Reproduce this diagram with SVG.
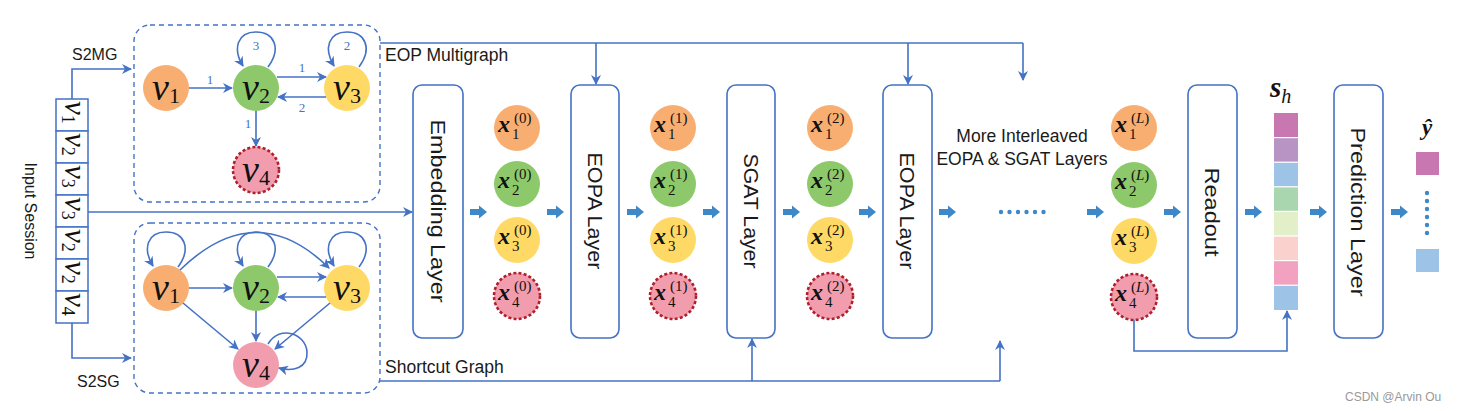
<svg xmlns="http://www.w3.org/2000/svg" width="1461" height="411" viewBox="0 0 1461 411">
<defs>
<style>
.conn{fill:none;stroke:#4472C4;stroke-width:1.6}
.dbox{fill:none;stroke:#4472C4;stroke-width:1.4;stroke-dasharray:5,4}
.layer{fill:#fff;stroke:#4472C4;stroke-width:1.6}
.lt{font-family:"Liberation Sans",Arial,sans-serif;font-size:21px;fill:#1a1a1a}
.lbl{font-family:"Liberation Sans",Arial,sans-serif;font-size:17.5px;fill:#1a1a1a}
.el{font-family:"Liberation Serif","Times New Roman",serif;font-size:13px;fill:#4472C4;text-anchor:middle}
.o{fill:#F9AE71}.g{fill:#8DC96B}.y{fill:#FFD966}.p{fill:#F29DAE}
.pd{fill:#F29DAE;stroke:#B01F2E;stroke-width:2.6;stroke-dasharray:3,2.2}
.v{font-family:"Liberation Serif","Times New Roman",serif;font-style:italic;font-size:38px;fill:#111}
.vs{font-family:"Liberation Serif","Times New Roman",serif;font-style:normal;font-size:22px;fill:#111}
.xm{font-family:"Liberation Serif","Times New Roman",serif;font-style:italic;font-weight:bold;font-size:24px;fill:#111}
.xs{font-family:"Liberation Serif","Times New Roman",serif;font-size:15px;fill:#111}
.ba{fill:#3C88C8}
.cell{fill:#fff;stroke:#4472C4;stroke-width:1.5}
</style>
<marker id="ah" viewBox="0 0 10 10" refX="9" refY="5" markerWidth="11" markerHeight="10" markerUnits="userSpaceOnUse" orient="auto">
<path d="M0,0 L10,5 L0,10 L3,5 z" fill="#4472C4"/>
</marker>
<path id="barrow" d="M0,-3 H9 V-6.5 L17,0 L9,6.5 V3 H0 z"/>
</defs>
<rect width="1461" height="411" fill="#fff"/>

<!-- Input session -->
<g id="input-session">
<rect class="cell" x="56" y="99" width="32" height="32"/>
<rect class="cell" x="56" y="131" width="32" height="32"/>
<rect class="cell" x="56" y="163" width="32" height="32"/>
<rect class="cell" x="56" y="195" width="32" height="32"/>
<rect class="cell" x="56" y="227" width="32" height="32"/>
<rect class="cell" x="56" y="259" width="32" height="32"/>
<rect class="cell" x="56" y="291" width="32" height="32"/>
<g transform="translate(72,115) rotate(90)"><text class="v" x="-14" y="7" style="font-size:31px">v<tspan class="vs" style="font-size:18px" dy="3">1</tspan></text></g>
<g transform="translate(72,147) rotate(90)"><text class="v" x="-14" y="7" style="font-size:31px">v<tspan class="vs" style="font-size:18px" dy="3">2</tspan></text></g>
<g transform="translate(72,179) rotate(90)"><text class="v" x="-14" y="7" style="font-size:31px">v<tspan class="vs" style="font-size:18px" dy="3">3</tspan></text></g>
<g transform="translate(72,211) rotate(90)"><text class="v" x="-14" y="7" style="font-size:31px">v<tspan class="vs" style="font-size:18px" dy="3">3</tspan></text></g>
<g transform="translate(72,243) rotate(90)"><text class="v" x="-14" y="7" style="font-size:31px">v<tspan class="vs" style="font-size:18px" dy="3">2</tspan></text></g>
<g transform="translate(72,275) rotate(90)"><text class="v" x="-14" y="7" style="font-size:31px">v<tspan class="vs" style="font-size:18px" dy="3">2</tspan></text></g>
<g transform="translate(72,307) rotate(90)"><text class="v" x="-14" y="7" style="font-size:31px">v<tspan class="vs" style="font-size:18px" dy="3">4</tspan></text></g>
<text class="lbl" transform="translate(25,211) rotate(90)" text-anchor="middle" style="font-size:16px">Input Session</text>
</g>

<text class="lbl" x="72" y="60" style="font-size:16px">S2MG</text>
<text class="lbl" x="77" y="387" style="font-size:16px">S2SG</text>

<!-- EOP Multigraph -->
<g id="eop-multigraph">
<rect class="dbox" x="134" y="25" width="246" height="177" rx="16"/>
<circle class="o" cx="166" cy="88" r="23"/>
<circle class="g" cx="256" cy="88" r="23"/>
<circle class="y" cx="347" cy="88" r="23"/>
<circle class="pd" cx="256" cy="170" r="23"/>
<text class="v" x="152" y="100">v<tspan class="vs" dy="3">1</tspan></text>
<text class="v" x="242" y="100">v<tspan class="vs" dy="3">2</tspan></text>
<text class="v" x="333" y="100">v<tspan class="vs" dy="3">3</tspan></text>
<text class="v" x="242" y="182">v<tspan class="vs" dy="3">4</tspan></text>
<g class="edges">
<path class="conn" marker-end="url(#ah)" d="M189,88 H232"/>
<path class="conn" marker-end="url(#ah)" d="M277,77 H326"/>
<path class="conn" marker-end="url(#ah)" d="M326,97 H278"/>
<path class="conn" marker-end="url(#ah)" d="M256,111 V146"/>
<path class="conn" marker-end="url(#ah)" d="M268,67 C282,48 274,32 256,32 C238,32 232,48 243,66"/>
<path class="conn" marker-end="url(#ah)" d="M359,67 C373,48 365,32 347,32 C329,32 323,48 334,66"/>
</g>
<text class="el" x="210" y="84">1</text>
<text class="el" x="302" y="72">1</text>
<text class="el" x="302" y="112">2</text>
<text class="el" x="248" y="128">1</text>
<text class="el" x="256" y="50">3</text>
<text class="el" x="347" y="50">2</text>
</g>
<text class="lbl" x="385" y="61">EOP Multigraph</text>

<!-- Shortcut Graph -->
<g id="shortcut-graph">
<rect class="dbox" x="134" y="223" width="246" height="170" rx="16"/>
<circle class="o" cx="166" cy="288" r="23"/>
<circle class="g" cx="256" cy="288" r="23"/>
<circle class="y" cx="347" cy="288" r="23"/>
<circle class="p" cx="256" cy="365" r="23"/>
<text class="v" x="152" y="300">v<tspan class="vs" dy="3">1</tspan></text>
<text class="v" x="242" y="300">v<tspan class="vs" dy="3">2</tspan></text>
<text class="v" x="333" y="300">v<tspan class="vs" dy="3">3</tspan></text>
<text class="v" x="242" y="377">v<tspan class="vs" dy="3">4</tspan></text>
<g class="edges">
<path class="conn" marker-end="url(#ah)" d="M189,288 H232"/>
<path class="conn" marker-end="url(#ah)" d="M277,277 H326"/>
<path class="conn" marker-end="url(#ah)" d="M326,297 H278"/>
<path class="conn" marker-end="url(#ah)" d="M256,311 V341"/>
<path class="conn" marker-end="url(#ah)" d="M183,303 L238,349"/>
<path class="conn" marker-end="url(#ah)" d="M330,303 L275,349"/>
<path class="conn" marker-end="url(#ah)" d="M180,270 Q256,196 329,268"/>
<path class="conn" marker-end="url(#ah)" d="M178,267 C192,248 184,232 166,232 C148,232 142,248 153,266"/>
<path class="conn" marker-end="url(#ah)" d="M268,267 C282,248 274,232 256,232 C238,232 232,248 243,266"/>
<path class="conn" marker-end="url(#ah)" d="M359,267 C373,248 365,232 347,232 C329,232 323,248 334,266"/>
<path class="conn" marker-end="url(#ah)" d="M268,344 C280,324 306,334 307,352 C308,368 293,372 279,368"/>
</g>
</g>
<text class="lbl" x="385" y="373">Shortcut Graph</text>

<!-- Layers -->
<g id="embedding-layer"><rect class="layer" x="413" y="85" width="50" height="253" rx="9"/>
<text class="lt" transform="translate(438,211) rotate(90)" text-anchor="middle" dy="7" textLength="183" lengthAdjust="spacingAndGlyphs">Embedding Layer</text></g>
<g id="eopa-layer-1"><rect class="layer" x="571" y="85" width="48" height="253" rx="9"/>
<text class="lt" transform="translate(595,211) rotate(90)" text-anchor="middle" dy="7" textLength="117" lengthAdjust="spacingAndGlyphs">EOPA Layer</text></g>
<g id="sgat-layer"><rect class="layer" x="727" y="85" width="48" height="253" rx="9"/>
<text class="lt" transform="translate(751,211) rotate(90)" text-anchor="middle" dy="7" textLength="115" lengthAdjust="spacingAndGlyphs">SGAT Layer</text></g>
<g id="eopa-layer-2"><rect class="layer" x="883" y="85" width="49" height="253" rx="9"/>
<text class="lt" transform="translate(907,211) rotate(90)" text-anchor="middle" dy="7" textLength="117" lengthAdjust="spacingAndGlyphs">EOPA Layer</text></g>
<g id="readout"><rect class="layer" x="1188" y="85" width="49" height="253" rx="9"/>
<text class="lt" transform="translate(1212,212) rotate(90)" text-anchor="middle" dy="7" textLength="89" lengthAdjust="spacingAndGlyphs">Readout</text></g>
<g id="prediction-layer"><rect class="layer" x="1334" y="85" width="49" height="253" rx="9"/>
<text class="lt" transform="translate(1358,212) rotate(90)" text-anchor="middle" dy="7" textLength="169" lengthAdjust="spacingAndGlyphs">Prediction Layer</text></g>

<!-- Embedding columns -->
<g id="x0">
<circle class="o" cx="517" cy="128" r="23"/><circle class="g" cx="517" cy="184" r="23"/><circle class="y" cx="517" cy="240" r="23"/><circle class="pd" cx="517" cy="296" r="23"/>
<text class="xm" x="498" y="132">x</text><text class="xs" x="512" y="139">1</text><text class="xs" x="514" y="123">(0)</text>
<text class="xm" x="498" y="188">x</text><text class="xs" x="512" y="195">2</text><text class="xs" x="514" y="179">(0)</text>
<text class="xm" x="498" y="244">x</text><text class="xs" x="512" y="251">3</text><text class="xs" x="514" y="235">(0)</text>
<text class="xm" x="498" y="300">x</text><text class="xs" x="512" y="307">4</text><text class="xs" x="514" y="291">(0)</text>
</g>
<g id="x1">
<circle class="o" cx="673" cy="128" r="23"/><circle class="g" cx="673" cy="184" r="23"/><circle class="y" cx="673" cy="240" r="23"/><circle class="pd" cx="673" cy="296" r="23"/>
<text class="xm" x="654" y="132">x</text><text class="xs" x="668" y="139">1</text><text class="xs" x="670" y="123">(1)</text>
<text class="xm" x="654" y="188">x</text><text class="xs" x="668" y="195">2</text><text class="xs" x="670" y="179">(1)</text>
<text class="xm" x="654" y="244">x</text><text class="xs" x="668" y="251">3</text><text class="xs" x="670" y="235">(1)</text>
<text class="xm" x="654" y="300">x</text><text class="xs" x="668" y="307">4</text><text class="xs" x="670" y="291">(1)</text>
</g>
<g id="x2">
<circle class="o" cx="830" cy="128" r="23"/><circle class="g" cx="830" cy="184" r="23"/><circle class="y" cx="830" cy="240" r="23"/><circle class="pd" cx="830" cy="296" r="23"/>
<text class="xm" x="811" y="132">x</text><text class="xs" x="825" y="139">1</text><text class="xs" x="827" y="123">(2)</text>
<text class="xm" x="811" y="188">x</text><text class="xs" x="825" y="195">2</text><text class="xs" x="827" y="179">(2)</text>
<text class="xm" x="811" y="244">x</text><text class="xs" x="825" y="251">3</text><text class="xs" x="827" y="235">(2)</text>
<text class="xm" x="811" y="300">x</text><text class="xs" x="825" y="307">4</text><text class="xs" x="827" y="291">(2)</text>
</g>
<g id="xL">
<circle class="o" cx="1134" cy="128" r="23"/><circle class="g" cx="1134" cy="185" r="23"/><circle class="y" cx="1134" cy="241" r="23"/><circle class="pd" cx="1134" cy="297" r="23"/>
<text class="xm" x="1115" y="132">x</text><text class="xs" x="1129" y="139">1</text><text class="xs" x="1131" y="123">(<tspan font-style="italic">L</tspan>)</text>
<text class="xm" x="1115" y="189">x</text><text class="xs" x="1129" y="196">2</text><text class="xs" x="1131" y="180">(<tspan font-style="italic">L</tspan>)</text>
<text class="xm" x="1115" y="245">x</text><text class="xs" x="1129" y="252">3</text><text class="xs" x="1131" y="236">(<tspan font-style="italic">L</tspan>)</text>
<text class="xm" x="1115" y="301">x</text><text class="xs" x="1129" y="308">4</text><text class="xs" x="1131" y="292">(<tspan font-style="italic">L</tspan>)</text>
</g>

<g id="more-layers">
<text class="lbl" x="1022" y="142" text-anchor="middle">More Interleaved</text>
<text class="lbl" x="1022" y="165" text-anchor="middle">EOPA &amp; SGAT Layers</text>
<g class="ba"><circle cx="1001" cy="212" r="2.2"/><circle cx="1009.5" cy="212" r="2.2"/><circle cx="1018" cy="212" r="2.2"/><circle cx="1026.5" cy="212" r="2.2"/><circle cx="1035" cy="212" r="2.2"/><circle cx="1043.5" cy="212" r="2.2"/></g>
</g>

<!-- s_h vector -->
<g id="s-h">
<rect x="1274" y="113" width="24" height="24.6" fill="#C977B0"/>
<rect x="1274" y="137.6" width="24" height="24.6" fill="#B894C4"/>
<rect x="1274" y="162.2" width="24" height="24.6" fill="#9DC3E6"/>
<rect x="1274" y="186.8" width="24" height="24.6" fill="#A9D6AE"/>
<rect x="1274" y="211.4" width="24" height="24.6" fill="#E3EFC9"/>
<rect x="1274" y="236" width="24" height="24.6" fill="#FBD1CD"/>
<rect x="1274" y="260.6" width="24" height="24.6" fill="#F3A1C1"/>
<rect x="1274" y="285.2" width="24" height="24.8" fill="#9DC3E6"/>
<g stroke="#fff" stroke-width="1.2"><line x1="1274" y1="137.6" x2="1298" y2="137.6"/><line x1="1274" y1="162.2" x2="1298" y2="162.2"/><line x1="1274" y1="186.8" x2="1298" y2="186.8"/><line x1="1274" y1="211.4" x2="1298" y2="211.4"/><line x1="1274" y1="236" x2="1298" y2="236"/><line x1="1274" y1="260.6" x2="1298" y2="260.6"/><line x1="1274" y1="285.2" x2="1298" y2="285.2"/></g>
<text x="1270" y="97" style="font-family:'Liberation Serif',serif;font-style:italic;font-weight:bold;font-size:29px;fill:#111">s<tspan style="font-weight:normal;font-size:20px" dy="6">h</tspan></text>
</g>

<!-- y hat -->
<g id="y-hat">
<text x="1427" y="135" text-anchor="middle" style="font-family:'Liberation Serif',serif;font-style:italic;font-weight:bold;font-size:23px;fill:#111">ŷ</text>
<rect x="1416" y="152" width="23" height="23" fill="#C977B0"/>
<g class="ba"><circle cx="1427" cy="193" r="2.2"/><circle cx="1427" cy="201" r="2.2"/><circle cx="1427" cy="209" r="2.2"/><circle cx="1427" cy="217" r="2.2"/><circle cx="1427" cy="225" r="2.2"/><circle cx="1427" cy="233" r="2.2"/></g>
<rect x="1416" y="249" width="23" height="23" fill="#9DC3E6"/>
</g>

<!-- Connectors -->
<g id="connectors">
<path class="conn" marker-end="url(#ah)" d="M72,99 V69 H131"/>
<path class="conn" marker-end="url(#ah)" d="M72,323 V358 H131"/>
<path class="conn" marker-end="url(#ah)" d="M88,212 H412"/>
<path class="conn" d="M380,43 H1023"/>
<path class="conn" marker-end="url(#ah)" d="M596,43 V84"/>
<path class="conn" marker-end="url(#ah)" d="M908,43 V84"/>
<path class="conn" marker-end="url(#ah)" d="M1023,43 V80"/>
<path class="conn" d="M380,381 H1000"/>
<path class="conn" marker-end="url(#ah)" d="M752,381 V339"/>
<path class="conn" marker-end="url(#ah)" d="M1000,381 V341"/>
<path class="conn" marker-end="url(#ah)" d="M1134,320 V351 H1287 V311"/>
<g class="ba">
<use href="#barrow" x="470" y="212"/><use href="#barrow" x="547" y="212"/><use href="#barrow" x="627" y="212"/><use href="#barrow" x="703" y="212"/>
<use href="#barrow" x="783" y="212"/><use href="#barrow" x="859" y="212"/><use href="#barrow" x="939" y="212"/><use href="#barrow" x="1087" y="212"/>
<use href="#barrow" x="1164" y="212"/><use href="#barrow" x="1245" y="212"/><use href="#barrow" x="1310" y="212"/><use href="#barrow" x="1391" y="212"/>
</g>
</g>

<text x="1345" y="401" style="font-family:'Liberation Sans',sans-serif;font-size:12px;fill:#999">CSDN @Arvin Ou</text>
</svg>
